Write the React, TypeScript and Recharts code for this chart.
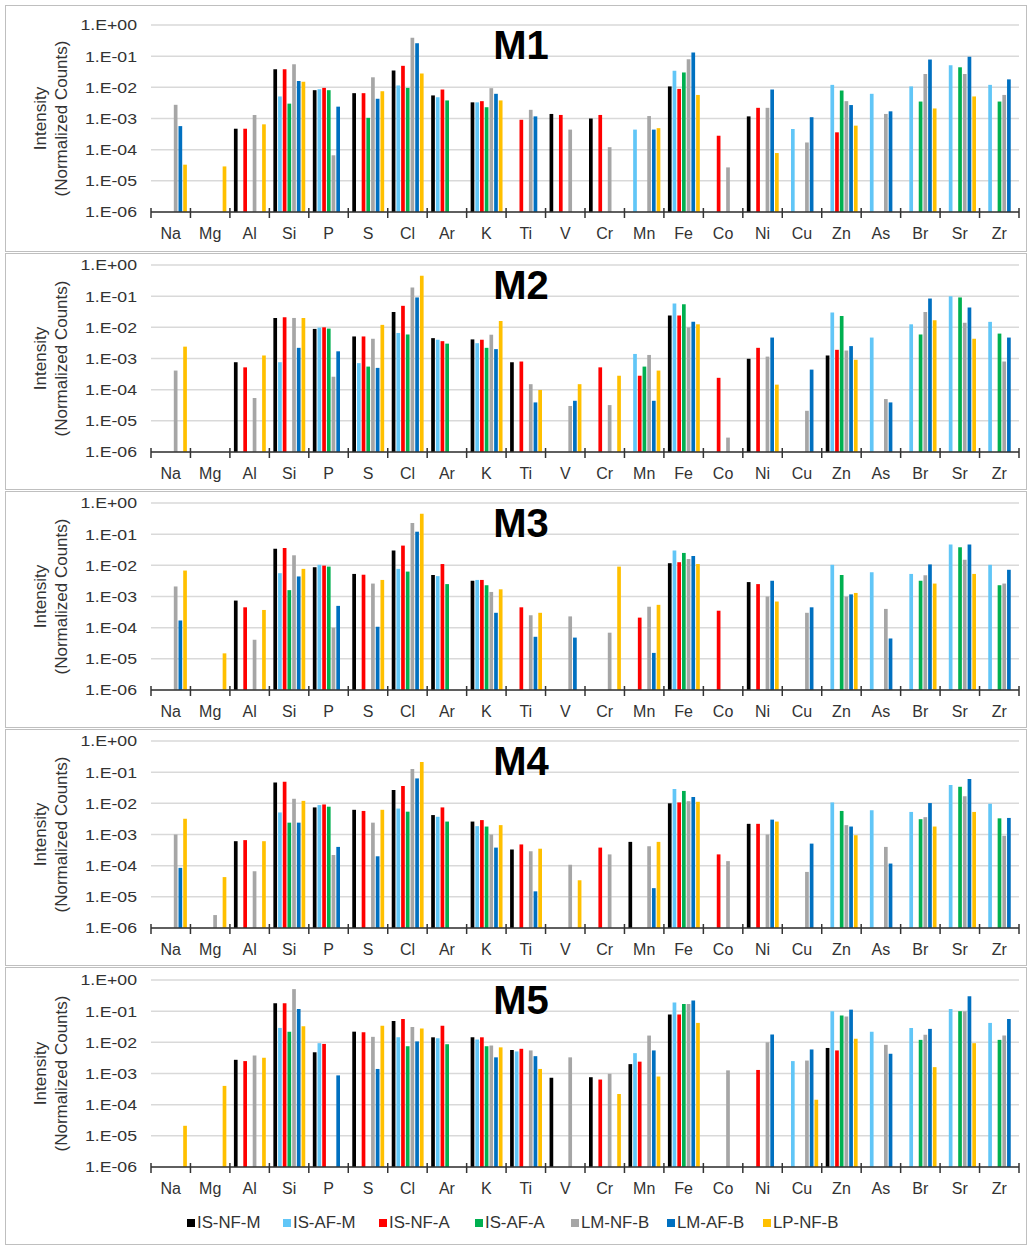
import React from 'react';
import { BarChart, Bar, XAxis, YAxis, CartesianGrid } from 'recharts';

const N = null;

const CATEGORIES = ['Na','Mg','Al','Si','P','S','Cl','Ar','K','Ti','V','Cr','Mn','Fe','Co','Ni','Cu','Zn','As','Br','Sr','Zr'];
const SERIES_NAMES = ['IS-NF-M','IS-AF-M','IS-NF-A','IS-AF-A','LM-NF-B','LM-AF-B','LP-NF-B'];
const SERIES_COLORS = ['#000000','#61C6F7','#FF0000','#00B050','#A6A6A6','#0070C0','#FFC000'];
const Y_TICKS = [1e-6, 1e-5, 1e-4, 1e-3, 1e-2, 1e-1, 1];
const Y_TICK_LABELS = ['1.E-06','1.E-05','1.E-04','1.E-03','1.E-02','1.E-01','1.E+00'];
const PANEL_TITLES = ['M1','M2','M3','M4','M5'];

// ---- M1 ----
const M1_IS_NF_M = [N,N,4.7e-4,3.8e-2,8.1e-3,6.5e-3,3.5e-2,5.5e-3,3.3e-3,N,1.4e-3,1.0e-3,N,1.07e-2,N,1.17e-3,N,N,N,N,N,N];
const M1_IS_AF_M = [N,N,N,5.1e-3,8.7e-3,N,1.15e-2,4.8e-3,3.3e-3,N,N,N,4.4e-4,3.4e-2,N,N,4.6e-4,1.2e-2,6.2e-3,1.07e-2,5.1e-2,1.2e-2];
const M1_IS_NF_A = [N,N,4.7e-4,3.8e-2,9.6e-3,6.5e-3,4.9e-2,8.5e-3,3.6e-3,9.1e-4,1.3e-3,1.3e-3,N,8.9e-3,2.8e-4,2.2e-3,N,3.6e-4,N,N,N,N];
const M1_IS_AF_A = [N,N,N,3.0e-3,8.1e-3,1.05e-3,9.6e-3,3.8e-3,2.3e-3,N,N,N,N,3.0e-2,N,N,N,7.9e-3,N,3.5e-3,4.4e-2,3.5e-3];
const M1_LM_NF_B = [2.75e-3,N,1.3e-3,5.5e-2,6.6e-5,2.1e-2,0.39,N,9.4e-3,1.9e-3,4.4e-4,1.2e-4,1.2e-3,7.9e-2,2.7e-5,2.2e-3,1.7e-4,3.6e-3,1.4e-3,2.7e-2,2.7e-2,5.7e-3];
const M1_LM_AF_B = [5.7e-4,N,N,1.6e-2,2.4e-3,4.3e-3,0.26,N,6.2e-3,1.17e-3,N,N,4.4e-4,0.13,N,8.5e-3,1.1e-3,2.7e-3,1.7e-3,7.8e-2,9.5e-2,1.8e-2];
const M1_LP_NF_B = [3.3e-5,2.9e-5,6.5e-4,1.5e-2,N,7.5e-3,2.8e-2,N,3.8e-3,N,N,N,4.9e-4,5.7e-3,N,7.8e-5,N,5.9e-4,N,2.1e-3,5.1e-3,N];

// ---- M2 ----
const M2_IS_NF_M = [N,N,7.6e-4,2.0e-2,8.9e-3,5.1e-3,3.1e-2,4.5e-3,4.1e-3,7.6e-4,N,N,N,2.4e-2,N,9.8e-4,N,1.25e-3,N,N,N,N];
const M2_IS_AF_M = [N,N,N,7.6e-4,9.8e-3,7.1e-4,6.6e-3,4.0e-3,3.1e-3,N,N,N,1.4e-3,5.8e-2,N,N,N,3.0e-2,4.7e-3,1.25e-2,0.10,1.5e-2];
const M2_IS_NF_A = [N,N,5.2e-4,2.1e-2,1.0e-2,5.1e-3,4.9e-2,3.6e-3,4.0e-3,8.0e-4,N,5.2e-4,2.8e-4,2.4e-2,2.4e-4,2.2e-3,N,1.9e-3,N,N,N,N];
const M2_IS_AF_A = [N,N,N,N,9.1e-3,5.5e-4,5.9e-3,3.0e-3,2.2e-3,N,N,N,5.5e-4,5.5e-2,N,N,N,2.3e-2,N,5.9e-3,9.1e-2,6.3e-3];
const M2_LM_NF_B = [4.1e-4,N,5.4e-5,2.0e-2,2.6e-4,4.3e-3,0.19,N,5.8e-3,1.5e-4,3.0e-5,3.2e-5,1.3e-3,1.0e-2,2.9e-6,1.15e-3,2.1e-5,1.8e-3,5.0e-5,3.1e-2,1.4e-2,8.0e-4];
const M2_LM_AF_B = [N,N,N,2.2e-3,1.7e-3,5.0e-4,9.1e-2,N,2.0e-3,3.9e-5,4.4e-5,N,4.4e-5,1.5e-2,N,4.7e-3,4.4e-4,2.5e-3,3.9e-5,8.4e-2,4.3e-2,4.7e-3];
const M2_LP_NF_B = [2.4e-3,N,1.25e-3,2.0e-2,N,1.2e-2,0.45,N,1.6e-2,9.8e-5,1.5e-4,2.8e-4,4.1e-4,1.25e-2,N,1.45e-4,N,9.1e-4,N,1.7e-2,4.3e-3,N];

// ---- M3 ----
const M3_IS_NF_M = [N,N,7.4e-4,3.4e-2,8.7e-3,5.3e-3,3.0e-2,4.9e-3,3.2e-3,N,N,N,N,1.17e-2,N,2.9e-3,N,N,N,N,N,N];
const M3_IS_AF_M = [N,N,N,5.6e-3,1.04e-2,N,7.7e-3,4.5e-3,3.4e-3,N,N,N,N,3.0e-2,N,N,N,1.04e-2,6.0e-3,5.3e-3,4.7e-2,1.04e-2];
const M3_IS_NF_A = [N,N,4.5e-4,3.6e-2,9.8e-3,5.0e-3,4.3e-2,1.1e-2,3.4e-3,4.5e-4,N,N,2.1e-4,1.26e-2,3.5e-4,2.5e-3,N,N,N,N,N,N];
const M3_IS_AF_A = [N,N,N,1.6e-3,9.1e-3,N,6.3e-3,2.5e-3,2.3e-3,N,N,N,N,2.5e-2,N,N,N,4.9e-3,N,3.2e-3,3.8e-2,2.3e-3];
const M3_LM_NF_B = [2.1e-3,N,4.1e-5,2.1e-2,1.0e-4,2.6e-3,0.23,N,1.4e-3,2.5e-4,2.3e-4,6.9e-5,4.7e-4,1.6e-2,N,1.0e-3,3.0e-4,1.0e-3,4.0e-4,4.8e-3,1.5e-2,2.6e-3];
const M3_LM_AF_B = [1.7e-4,N,N,4.4e-3,5.0e-4,1.07e-4,0.12,N,3.0e-4,5.1e-5,4.8e-5,N,1.55e-5,2.0e-2,N,3.2e-3,4.5e-4,1.17e-3,4.5e-5,1.07e-2,4.7e-2,7.2e-3];
const M3_LP_NF_B = [6.8e-3,1.5e-5,3.7e-4,7.7e-3,N,3.4e-3,0.45,N,1.7e-3,3.0e-4,N,9.1e-3,5.4e-4,1.1e-2,N,6.9e-4,N,1.3e-3,N,2.6e-3,5.3e-3,N];

// ---- M4 ----
const M4_IS_NF_M = [N,N,6.1e-4,4.7e-2,7.4e-3,6.2e-3,2.7e-2,4.2e-3,2.6e-3,3.3e-4,N,N,5.8e-4,1.0e-2,N,2.2e-3,N,N,N,N,N,N];
const M4_IS_AF_M = [N,N,N,5.1e-3,8.8e-3,N,6.8e-3,3.7e-3,1.85e-3,N,N,N,N,2.9e-2,N,N,N,1.07e-2,6.0e-3,5.3e-3,3.9e-2,9.7e-3];
const M4_IS_NF_A = [N,N,6.6e-4,4.9e-2,9.2e-3,5.7e-3,3.6e-2,7.4e-3,2.9e-3,4.8e-4,N,3.8e-4,N,1.07e-2,2.3e-4,2.2e-3,N,N,N,N,N,N];
const M4_IS_AF_A = [N,N,N,2.4e-3,7.8e-3,N,5.4e-3,2.6e-3,1.8e-3,N,N,N,N,2.5e-2,N,N,N,5.7e-3,N,3.1e-3,3.4e-2,3.3e-3];
const M4_LM_NF_B = [1.0e-3,2.6e-6,6.6e-5,1.4e-2,2.2e-4,2.4e-3,0.126,N,1.0e-3,2.9e-4,1.07e-4,2.3e-4,4.2e-4,1.17e-2,1.4e-4,1.0e-3,6.3e-5,2.0e-3,4.0e-4,3.6e-3,1.7e-2,9.1e-4];
const M4_LM_AF_B = [8.5e-5,N,N,2.4e-3,4.0e-4,2.0e-4,6.3e-2,N,3.8e-4,1.5e-5,N,N,1.9e-5,1.6e-2,N,3.0e-3,5.1e-4,1.8e-3,1.17e-4,1.02e-2,6.0e-2,3.4e-3];
const M4_LP_NF_B = [3.2e-3,4.3e-5,6.1e-4,1.2e-2,N,6.2e-3,0.21,N,2.0e-3,3.5e-4,3.4e-5,N,5.8e-4,1.12e-2,N,2.6e-3,N,9.5e-4,N,1.8e-3,5.3e-3,N];

// ---- M5 ----
const M5_IS_NF_M = [N,N,2.75e-3,0.18,4.8e-3,2.2e-2,4.8e-2,1.45e-2,1.45e-2,5.7e-3,7.3e-4,7.6e-4,2.0e-3,7.8e-2,N,N,N,6.6e-3,N,N,N,N];
const M5_IS_AF_M = [N,N,N,2.9e-2,9.4e-3,N,1.45e-2,1.35e-2,1.23e-2,5.1e-3,N,N,4.5e-3,0.19,N,N,2.5e-3,0.1,2.2e-2,2.9e-2,0.118,4.2e-2];
const M5_IS_NF_A = [N,N,2.5e-3,0.18,8.9e-3,2.1e-2,5.6e-2,3.4e-2,1.45e-2,6.2e-3,N,6.4e-4,2.4e-3,7.8e-2,N,1.3e-3,N,5.5e-3,N,N,N,N];
const M5_IS_AF_A = [N,N,N,2.2e-2,N,N,7.5e-3,8.7e-3,7.5e-3,N,N,N,N,0.17,N,N,N,7.2e-2,N,1.2e-2,0.1,1.2e-2];
const M5_LM_NF_B = [N,N,3.8e-3,0.51,N,1.5e-2,3.1e-2,N,7.9e-3,5.5e-3,3.3e-3,9.8e-4,1.65e-2,0.17,1.26e-3,1.0e-2,2.6e-3,6.7e-2,8.3e-3,1.74e-2,0.1,1.65e-2];
const M5_LM_AF_B = [N,N,N,0.118,8.7e-4,1.4e-3,1.07e-2,N,3.3e-3,3.6e-3,N,N,5.5e-3,0.22,N,1.78e-2,5.9e-3,0.112,4.3e-3,2.7e-2,0.30,5.6e-2];
const M5_LP_NF_B = [2.1e-5,4.0e-4,3.2e-3,3.3e-2,N,3.4e-2,2.8e-2,N,6.9e-3,1.4e-3,N,2.2e-4,8.0e-4,4.2e-2,N,N,1.44e-4,1.3e-2,N,1.6e-3,9.4e-3,N];

const PANEL_SERIES = [
  [M1_IS_NF_M, M1_IS_AF_M, M1_IS_NF_A, M1_IS_AF_A, M1_LM_NF_B, M1_LM_AF_B, M1_LP_NF_B],
  [M2_IS_NF_M, M2_IS_AF_M, M2_IS_NF_A, M2_IS_AF_A, M2_LM_NF_B, M2_LM_AF_B, M2_LP_NF_B],
  [M3_IS_NF_M, M3_IS_AF_M, M3_IS_NF_A, M3_IS_AF_A, M3_LM_NF_B, M3_LM_AF_B, M3_LP_NF_B],
  [M4_IS_NF_M, M4_IS_AF_M, M4_IS_NF_A, M4_IS_AF_A, M4_LM_NF_B, M4_LM_AF_B, M4_LP_NF_B],
  [M5_IS_NF_M, M5_IS_AF_M, M5_IS_NF_A, M5_IS_AF_A, M5_LM_NF_B, M5_LM_AF_B, M5_LP_NF_B],
];

// layout (page pixels)
const PANEL_BOXES = [
  { top: 5, height: 247 },
  { top: 253, height: 237 },
  { top: 491, height: 237 },
  { top: 729, height: 237 },
  { top: 967, height: 278 },
];
const PLOT_TOPS = [25, 265, 503, 741, 980];
const PLOT_H = 187;
const CHART_W = 1031;
const PLOT_LEFT = 151;
const PLOT_RIGHT_MARGIN = 12;
const TOP_PAD = 10;
const XAXIS_H = 34;
const FONT = '"Liberation Sans", Arial, sans-serif';
const TEXT_COLOR = '#333333';
const BAND_FALLBACK = (CHART_W - PLOT_LEFT - PLOT_RIGHT_MARGIN) / CATEGORIES.length;

const XTick = (props: any) => {
  const { x, y, payload, index } = props;
  const half = payload && payload.offset > 0 ? payload.offset : BAND_FALLBACK / 2;
  const last = index === CATEGORIES.length - 1;
  return (
    <g>
      <line x1={x - half} x2={x - half} y1={y - 4} y2={y + 6} stroke="#333" strokeWidth={1.5} />
      {last && <line x1={x + half} x2={x + half} y1={y - 4} y2={y + 6} stroke="#333" strokeWidth={1.5} />}
      <text x={x} y={y + 27} textAnchor="middle" fontSize={16} fontFamily={FONT} fill={TEXT_COLOR}>
        {payload.value}
      </text>
    </g>
  );
};

const YTick = (props: any) => {
  const { x, y, payload } = props;
  const i = Y_TICKS.findIndex((t) => Math.abs(Math.log10(t) - Math.log10(payload.value)) < 1e-6);
  return (
    <text
      transform={`translate(${x - 14},${y}) scale(1.18,1)`}
      textAnchor="end"
      dominantBaseline="central"
      fontSize={15}
      fontFamily={FONT}
      fill={TEXT_COLOR}
    >
      {i >= 0 ? Y_TICK_LABELS[i] : ''}
    </text>
  );
};

const YTitle = (props: any) => {
  const vb = props.viewBox || {};
  const cy = (vb.y || 0) + (vb.height || 0) / 2;
  return (
    <g fontFamily={FONT} fontSize={17} fill={TEXT_COLOR}>
      <text transform={`translate(40,${cy}) rotate(-90)`} textAnchor="middle" dominantBaseline="central">Intensity</text>
      <text transform={`translate(61,${cy}) rotate(-90)`} textAnchor="middle" dominantBaseline="central">(Normalized Counts)</text>
    </g>
  );
};

function Panel({ idx }: { idx: number }) {
  const series = PANEL_SERIES[idx];
  const data = CATEGORIES.map((c, i) => {
    const row: any = { cat: c };
    series.forEach((arr, s) => {
      row['s' + s] = arr[i];
    });
    return row;
  });
  const chartTop = PLOT_TOPS[idx] - TOP_PAD;
  return (
    <div style={{ position: 'absolute', left: 0, top: chartTop }}>
      <BarChart
        width={CHART_W}
        height={TOP_PAD + PLOT_H + XAXIS_H}
        data={data}
        margin={{ top: TOP_PAD, right: PLOT_RIGHT_MARGIN, bottom: 0, left: 0 }}
        barSize={3.7}
        barGap={1}
      >
        <CartesianGrid vertical={false} stroke="#D9D9D9" strokeWidth={1.5} />
        <XAxis
          dataKey="cat"
          interval={0}
          height={XAXIS_H}
          tickSize={0}
          tickMargin={0}
          tickLine={false}
          axisLine={{ stroke: '#333', strokeWidth: 1.5 }}
          tick={<XTick />}
        />
        <YAxis
          scale="log"
          type="number"
          domain={[1e-6, 1]}
          allowDataOverflow
          ticks={Y_TICKS}
          interval={0}
          width={PLOT_LEFT}
          tickSize={0}
          tickMargin={0}
          tickLine={false}
          axisLine={false}
          tick={<YTick />}
          label={{ content: <YTitle /> } as any}
        />
        {SERIES_NAMES.map((name, s) => (
          <Bar key={name} dataKey={'s' + s} name={name} fill={SERIES_COLORS[s]} isAnimationActive={false} />
        ))}
      </BarChart>
    </div>
  );
}

export default function App() {
  return (
    <div style={{ position: 'absolute', left: 0, top: 0, width: 1031, height: 1247, background: '#fff', fontFamily: FONT }}>
      {PANEL_BOXES.map((b, i) => (
        <div
          key={'box' + i}
          style={{ position: 'absolute', left: 5, top: b.top, width: 1022, height: b.height, border: '1px solid #BFBFBF', boxSizing: 'border-box' }}
        />
      ))}
      {PANEL_TITLES.map((t, i) => (
        <Panel key={t} idx={i} />
      ))}
      {PANEL_TITLES.map((t, i) => (
        <div
          key={'title' + i}
          style={{ position: 'absolute', left: 421, width: 200, top: PLOT_TOPS[i], textAlign: 'center', fontSize: 40, lineHeight: '40px', fontWeight: 'bold', color: '#000' }}
        >
          {t}
        </div>
      ))}
      <div style={{ position: 'absolute', left: 187, top: 1214, height: 18, display: 'flex' }}>
        {SERIES_NAMES.map((name, s) => (
          <div key={name} style={{ width: 96, display: 'flex', alignItems: 'center', fontSize: 16, color: TEXT_COLOR }}>
            <span style={{ display: 'inline-block', width: 8, height: 8, background: SERIES_COLORS[s], marginRight: 2 }} />
            <span style={{ display: 'inline-block', transform: 'scaleX(1.05)', transformOrigin: 'left center' }}>{name}</span>
          </div>
        ))}
      </div>
    </div>
  );
}
